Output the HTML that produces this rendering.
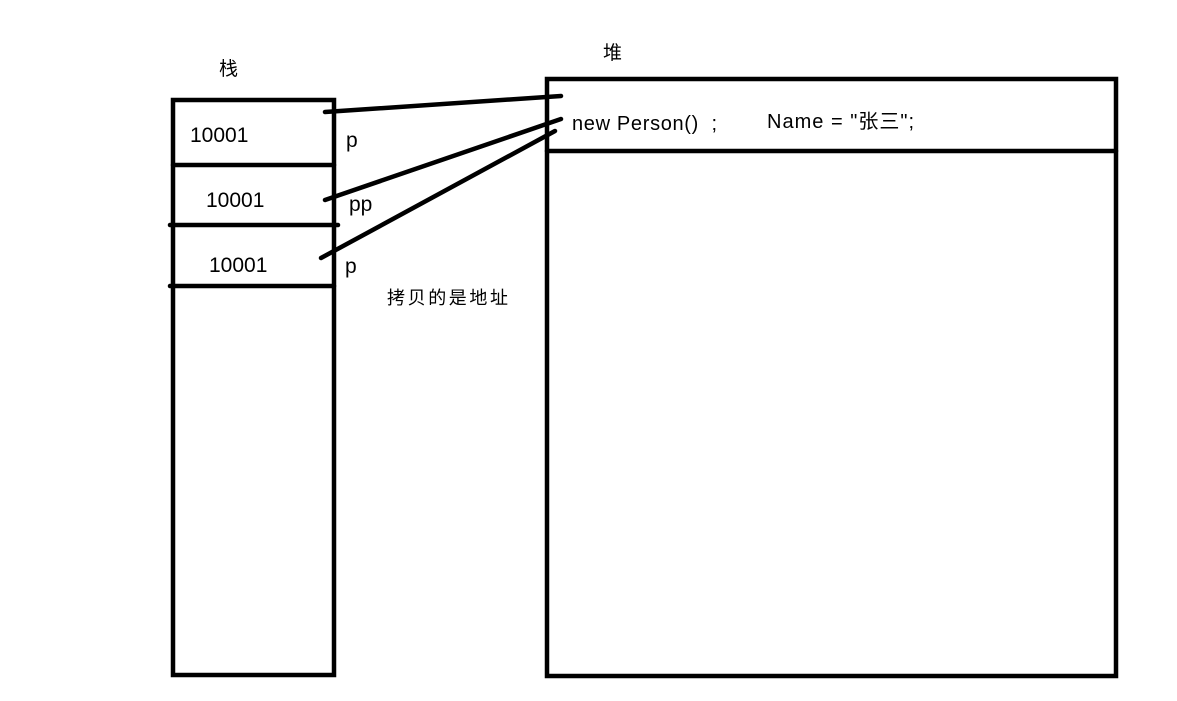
<!DOCTYPE html>
<html><head><meta charset="utf-8"><style>
html,body{margin:0;padding:0;background:#fff;}
svg{display:block}
text{font-family:"Liberation Sans","Noto Sans CJK SC",sans-serif;fill:#000;white-space:pre;}
</style></head><body>
<svg width="1177" height="701" viewBox="0 0 1177 701" xmlns="http://www.w3.org/2000/svg">
<g stroke="#000" stroke-width="4.5" fill="none" stroke-linecap="round">
<rect x="173" y="100" width="161" height="575"/>
<line x1="173" y1="165" x2="334" y2="165"/>
<line x1="170" y1="225" x2="338" y2="225"/>
<line x1="170" y1="286" x2="334" y2="286"/>
<rect x="547" y="79" width="569" height="597"/>
<line x1="547" y1="151" x2="1116" y2="151"/>
<line x1="325" y1="112" x2="561" y2="96"/>
<line x1="325" y1="200" x2="561" y2="119"/>
<line x1="321" y1="258" x2="555" y2="131"/>
</g>
<text x="219" y="75" font-size="19">栈</text>
<text x="603" y="59" font-size="19">堆</text>
<text x="190" y="142" font-size="21">10001</text>
<text x="206" y="207" font-size="21">10001</text>
<text x="209" y="272" font-size="21">10001</text>
<text x="346" y="147" font-size="21">p</text>
<text x="349" y="211" font-size="21">pp</text>
<text x="345" y="273" font-size="21">p</text>
<text x="387" y="304" font-size="18" textLength="121">拷贝的是地址</text>
<text x="572" y="130" font-size="20" textLength="145">new Person()  ;</text>
<text x="767" y="128" font-size="20" textLength="147">Name = "张三";</text>
</svg>
</body></html>
